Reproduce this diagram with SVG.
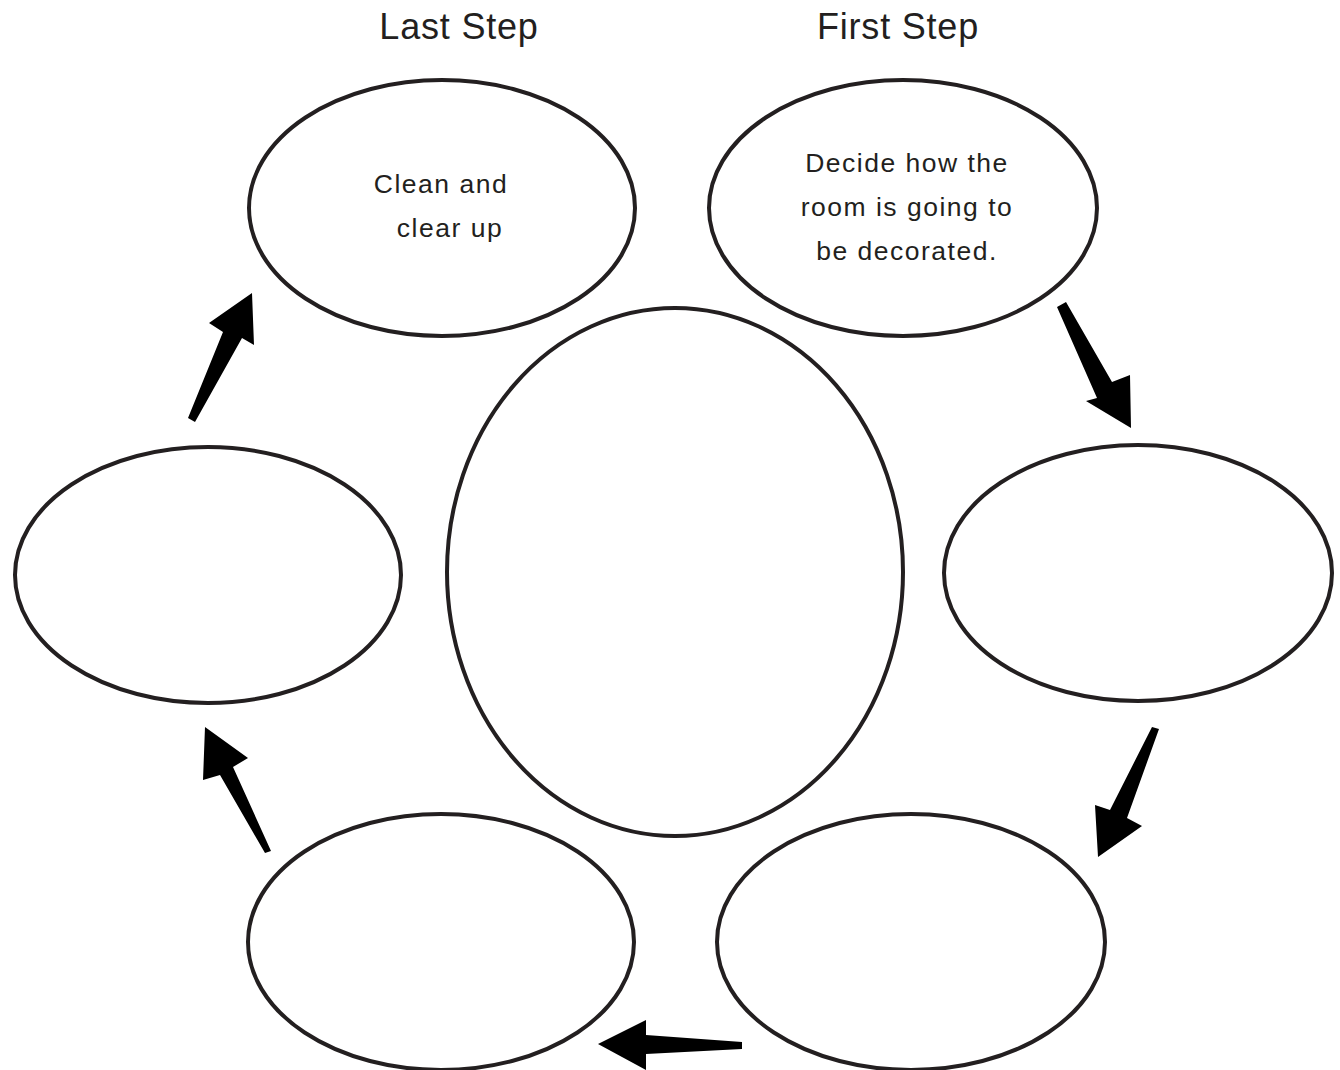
<svg xmlns="http://www.w3.org/2000/svg" width="1340" height="1070" viewBox="0 0 1340 1070">
<style>
.node{fill:#fff;stroke:#231f20;stroke-width:4}
.title{font-family:"Liberation Sans",Arial,sans-serif;font-size:36px;letter-spacing:0.8px;fill:#231f20;text-anchor:middle}
.lbl{font-family:"Liberation Sans",Arial,sans-serif;font-size:26.5px;letter-spacing:1.5px;fill:#231f20;text-anchor:middle}
.arrow{fill:#000}
</style>
<rect width="1340" height="1070" fill="#fff"/>
<text class="title" x="459" y="39">Last Step</text>
<text class="title" x="898" y="39">First Step</text>
<g id="node-last">
<ellipse class="node" cx="442" cy="208" rx="193" ry="128"/>
<text class="lbl" x="441" y="193">Clean and</text>
<text class="lbl" x="450" y="237">clear up</text>
</g>
<g id="node-first">
<ellipse class="node" cx="903" cy="208" rx="194" ry="128"/>
<text class="lbl" x="907" y="172">Decide how the</text>
<text class="lbl" x="907" y="216">room is going to</text>
<text class="lbl" x="907" y="260">be decorated.</text>
</g>
<g id="node-right"><ellipse class="node" cx="1138" cy="573" rx="194" ry="128"/></g>
<g id="node-bottom-right"><ellipse class="node" cx="911" cy="942" rx="194" ry="128"/></g>
<g id="node-bottom-left"><ellipse class="node" cx="441" cy="942" rx="193" ry="128"/></g>
<g id="node-left"><ellipse class="node" cx="208" cy="575" rx="193" ry="128"/></g>
<g id="node-center"><ellipse class="node" cx="675" cy="572" rx="228" ry="264"/></g>
<g id="connectors">
<polygon class="arrow" points="1057,307 1066,302 1112,382 1130,375 1131,428 1086,401 1097,398"/>
<polygon class="arrow" points="1152,727 1159,729 1127,818 1142,826 1098,857 1095,805 1110,810"/>
<polygon class="arrow" points="742,1042 742,1049 646,1054 646,1070 598,1044 646,1020 646,1035"/>
<polygon class="arrow" points="271,851 265,853 220,775 203,780 205,727 248,758 233,767"/>
<polygon class="arrow" points="188,418 195,422 242,338 254,345 252,293 209,323 223,332"/>
</g>
</svg>
